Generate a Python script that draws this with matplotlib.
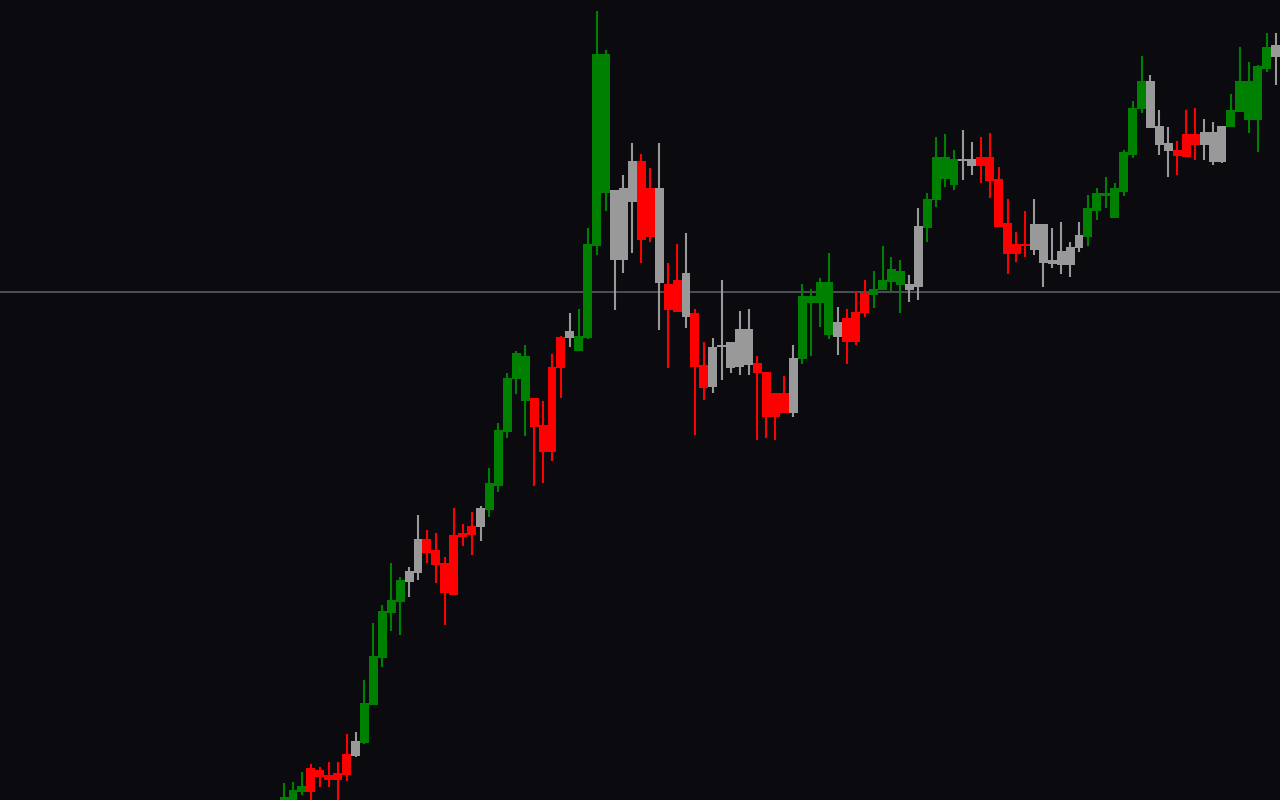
import numpy as np
import matplotlib.pyplot as plt

# candle data (oldest -> newest)
opens = [20.0, 20.0, 20.8, 23.2, 23.0, 22.5, 22.7, 24.6, 24.4, 25.7,
         29.5, 34.2, 38.7, 39.8, 41.8, 42.7, 46.1, 45.0, 43.7, 46.5,
         46.7, 47.4, 47.3, 49.0, 51.4, 56.8, 62.1, 59.9, 60.2, 57.5,
         63.3, 66.3, 66.2, 64.9, 66.2, 75.4, 80.7, 81.0, 81.2, 79.8,
         83.9, 81.2, 81.2, 71.6, 72.0, 72.7, 68.7, 63.5, 61.3, 65.3,
         63.2, 63.3, 63.5, 63.7, 62.8, 60.7, 60.7, 58.7, 64.1, 69.7,
         69.7, 66.5, 67.8, 68.2, 68.8, 70.7, 70.5, 71.0, 71.8, 71.5,
         71.6, 71.3, 77.2, 80.0, 82.1, 81.5, 83.9, 84.1, 84.3, 84.3,
         82.1, 77.7, 75.6, 75.6, 75.0, 77.6, 73.6, 73.5, 73.5, 75.2,
         76.3, 78.9, 80.4, 78.2, 80.8, 84.5, 89.1, 91.9, 87.4, 85.7,
         85.0, 86.6, 86.6, 85.5, 83.8, 83.8, 87.3, 88.8, 88.0, 88.0,
         93.1, 94.3]
highs = [21.7, 21.8, 22.8, 23.6, 23.3, 23.8, 23.8, 26.6, 26.8, 32.0,
         37.7, 39.5, 43.7, 42.3, 43.3, 48.5, 47.0, 46.7, 44.3, 49.2,
         47.6, 48.8, 49.4, 53.2, 57.7, 62.7, 64.9, 65.5, 60.2, 59.9,
         64.6, 66.4, 68.7, 69.1, 77.2, 98.9, 95.0, 81.0, 82.5, 85.7,
         84.6, 83.2, 85.7, 73.7, 75.6, 76.7, 69.1, 65.8, 66.2, 72.0,
         65.8, 68.9, 69.1, 64.4, 62.8, 60.7, 62.4, 65.5, 71.6, 71.1,
         72.2, 74.7, 69.3, 69.1, 70.9, 72.0, 72.9, 75.4, 74.3, 74.0,
         72.5, 79.2, 80.7, 86.3, 86.6, 85.0, 87.0, 85.8, 86.3, 86.7,
         83.3, 80.1, 76.8, 78.9, 80.1, 77.6, 77.2, 77.8, 75.8, 77.8,
         80.5, 81.2, 82.3, 81.7, 85.0, 89.9, 94.4, 92.5, 89.0, 87.3,
         85.9, 89.0, 89.2, 88.1, 87.8, 87.4, 90.6, 95.3, 93.8, 93.5,
         96.7, 96.7]
lows = [20.0, 20.0, 20.5, 20.0, 21.3, 21.3, 20.0, 21.9, 24.3, 25.6,
        29.5, 33.3, 36.9, 36.5, 40.3, 42.0, 43.7, 41.7, 37.5, 40.5,
        45.4, 44.5, 45.9, 48.3, 50.8, 56.2, 60.6, 56.4, 51.4, 51.7,
        53.9, 60.2, 65.3, 64.9, 66.1, 74.5, 78.9, 69.0, 72.7, 74.7,
        73.7, 75.8, 67.0, 63.2, 68.8, 67.2, 56.5, 60.0, 60.7, 62.0,
        62.7, 62.5, 62.5, 56.0, 56.2, 56.0, 58.7, 58.3, 63.6, 64.4,
        67.3, 66.1, 64.5, 63.6, 65.5, 68.3, 69.2, 71.0, 70.8, 68.7,
        69.8, 70.0, 75.8, 79.3, 81.3, 81.0, 82.0, 82.5, 81.7, 80.2,
        77.3, 72.6, 73.8, 74.3, 74.5, 71.3, 73.2, 72.6, 72.3, 74.8,
        75.4, 78.0, 79.2, 78.2, 80.4, 84.2, 88.7, 87.2, 84.5, 82.3,
        82.5, 84.3, 84.0, 84.0, 83.5, 83.7, 87.3, 88.8, 86.7, 84.8,
        92.8, 91.5]
closes = [20.3, 21.0, 21.4, 20.8, 22.3, 22.0, 22.0, 22.5, 25.9, 29.7,
          34.4, 38.9, 40.0, 42.0, 42.9, 46.1, 44.7, 43.5, 40.7, 40.5,
          46.3, 46.5, 49.2, 51.7, 57.0, 62.2, 64.7, 64.4, 57.3, 54.8,
          54.8, 63.2, 66.9, 66.4, 75.6, 94.6, 94.6, 74.0, 74.0, 83.9,
          76.0, 76.3, 71.7, 69.0, 68.8, 68.3, 63.3, 61.2, 65.3, 65.5,
          65.8, 67.1, 67.1, 62.7, 58.3, 58.3, 58.7, 64.2, 70.4, 70.4,
          71.8, 71.8, 66.3, 65.8, 65.8, 68.7, 71.1, 72.0, 73.1, 72.9,
          71.0, 77.4, 80.1, 84.3, 84.3, 84.1, 84.1, 83.4, 83.4, 81.9,
          77.3, 74.6, 74.6, 75.4, 77.6, 73.7, 74.0, 74.9, 75.3, 76.5,
          79.2, 80.7, 80.7, 81.2, 84.8, 89.2, 91.9, 87.2, 85.5, 84.9,
          84.4, 84.3, 85.5, 86.8, 86.8, 87.4, 89.0, 91.9, 91.9, 93.4,
          95.3, 95.5]
# g = up, r = down, n = neutral (grey)
kinds = ("ggg" "rrrrr" "n" "ggggg" "nn" "rrrrrr" "n" "ggggg" "rrrr" "n"
         "gggg" "nnn" "rr" "n" "rr" "n" "rr" "nnnnn" "rrrr" "n" "gggg" "n"
         "rrr" "gggg" "nn" "gggg" "nn" "rrrrrr" "nnnnnn" "ggggggg" "nnn"
         "rrr" "nnn" "ggggg" "n")
ref_level = 70.8

palette = {"g": "#008000", "r": "#ff0000", "n": "#999999"}
bg = "#0a0a0f"

o = np.array(opens)
h = np.array(highs)
l = np.array(lows)
c = np.array(closes)
x = np.arange(len(o))
cols = [palette[k] for k in kinds]

fig = plt.figure(figsize=(12.8, 8), dpi=100, facecolor=bg)
ax = fig.add_axes([0, 0, 1, 1])
ax.set_facecolor(bg)

ax.axhline(ref_level, color="#5a5a62", lw=1.2, zorder=1)

ax.vlines(x, l, h, colors=cols, linewidth=1.5, zorder=2)
bottom = np.minimum(o, c)
height = np.maximum(np.abs(c - o), 0.25)
ax.bar(x, height, bottom=bottom, width=1.0, color=cols, linewidth=0, zorder=3)

ax.set_xlim(-31.8, 111.5)
ax.set_ylim(20, 100)
ax.axis("off")

fig.savefig("out.png", dpi=100, facecolor=bg)
